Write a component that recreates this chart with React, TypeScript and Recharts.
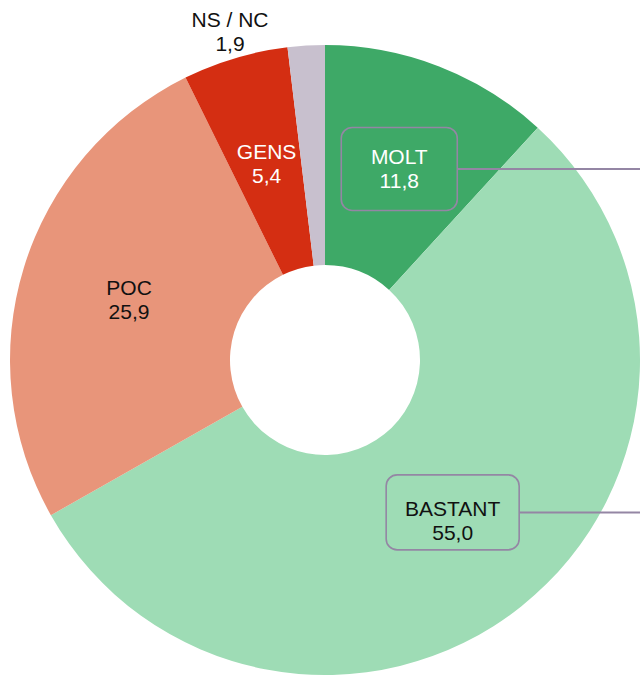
import React from 'react';
import { PieChart, Pie, Cell } from 'recharts';

const categories = ['MOLT', 'BASTANT', 'POC', 'GENS', 'NS / NC'];
const shares = [11.8, 55.0, 25.9, 5.4, 1.9];
const sliceColors = ['#3EA967', '#9EDCB5', '#E8957A', '#D42E12', '#C8C0CE'];
const labelColors = ['#ffffff', '#111111', '#111111', '#ffffff', '#111111'];

const data = categories.map((name, i) => ({ name, value: shares[i] }));

// boxed labels with a connector running off to the right edge
const boxStyles: Record<string, { w: number; h: number; dy: number }> = {
  MOLT: { w: 116, h: 83, dy: 0 },
  BASTANT: { w: 133, h: 75, dy: -8 },
};

const RADIAN = Math.PI / 180;
const FONT = '"Liberation Sans", Arial, Helvetica, sans-serif';
const BOX_STROKE = '#9486A4';

const fmt = (v: number) => v.toFixed(1).replace('.', ',');

const renderLabel = (props: any) => {
  const { cx, cy, midAngle, innerRadius, outerRadius, index } = props;
  const name = categories[index];
  const value = shares[index];
  let x: number;
  let y: number;
  if (value < 3) {
    // tiny slice: label sits above the ring
    x = cx - 95;
    y = cy - outerRadius - 14;
  } else {
    const r = (innerRadius + outerRadius) / 2;
    x = cx + r * Math.cos(-midAngle * RADIAN);
    y = cy + r * Math.sin(-midAngle * RADIAN);
  }
  const box = boxStyles[name];
  return (
    <g key={`lbl-${index}`}>
      {box && (
        <>
          <line
            x1={x + box.w / 2}
            y1={y + box.dy}
            x2={700}
            y2={y + box.dy}
            stroke={BOX_STROKE}
            strokeWidth={2}
          />
          <rect
            x={x - box.w / 2}
            y={y + box.dy - box.h / 2}
            width={box.w}
            height={box.h}
            rx={11}
            ry={11}
            fill="none"
            stroke={BOX_STROKE}
            strokeWidth={1.6}
          />
        </>
      )}
      <text
        x={x}
        y={y - 12}
        textAnchor="middle"
        dominantBaseline="central"
        fill={labelColors[index]}
        fontFamily={FONT}
        fontSize={21}
      >
        {name}
      </text>
      <text
        x={x}
        y={y + 12}
        textAnchor="middle"
        dominantBaseline="central"
        fill={labelColors[index]}
        fontFamily={FONT}
        fontSize={21}
      >
        {fmt(value)}
      </text>
    </g>
  );
};

export default function App() {
  return (
    <div style={{ position: 'absolute', left: 0, top: 0, width: 640, height: 675, background: '#fff' }}>
      <PieChart width={640} height={675} margin={{ top: 0, right: 0, bottom: 0, left: 0 }}>
        <Pie
          data={data}
          dataKey="value"
          nameKey="name"
          cx={325}
          cy={360}
          innerRadius={95}
          outerRadius={315}
          startAngle={90}
          endAngle={-270}
          stroke="none"
          label={renderLabel}
          labelLine={false}
          isAnimationActive={false}
        >
          {data.map((d, i) => (
            <Cell key={d.name} fill={sliceColors[i]} />
          ))}
        </Pie>
      </PieChart>
    </div>
  );
}
